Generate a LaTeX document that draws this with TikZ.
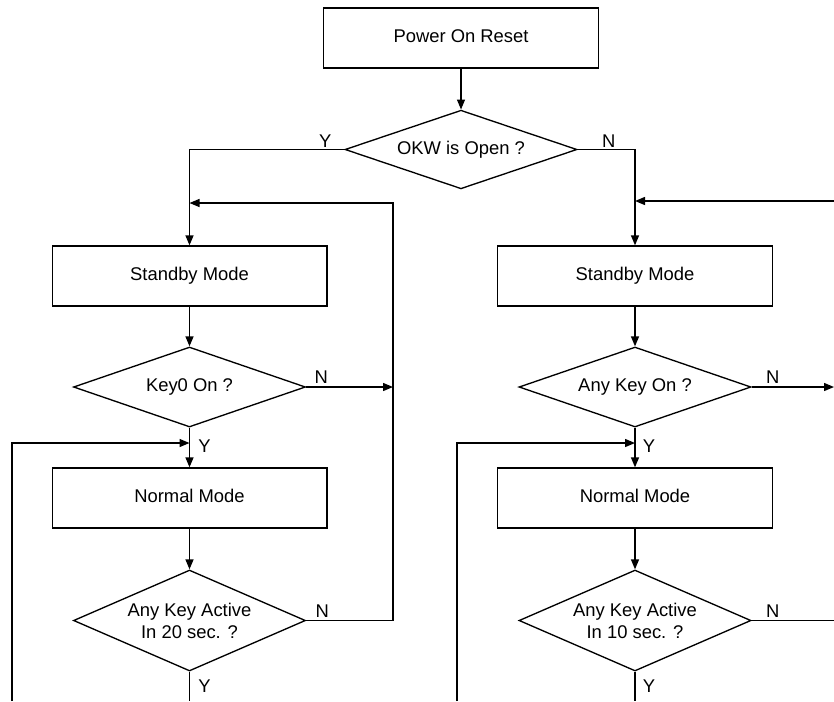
\documentclass[tikz,border=0pt]{standalone}
\usepackage{fontspec}
\setmainfont{Liberation Sans}
\usetikzlibrary{shapes.geometric,arrows.meta}
\begin{document}
\begin{tikzpicture}[x=0.75pt,y=-0.75pt,line cap=butt,line join=miter,line width=1pt,
		>={Triangle[length=7.5pt,width=6pt]},font=\fontsize{13.8}{16.5}\selectfont]
	\tikzset{box/.style={draw,rectangle,minimum width=206pt,minimum height=45pt,inner sep=0pt,
			text height=0.72em,text depth=0pt},
		decision/.style={draw,diamond,aspect=2.3,minimum width=174pt,minimum height=60pt,
			inner sep=0pt,align=center},
		lbl/.style={inner sep=0pt}
	}
	\path[fill=white,use as bounding box] (0,0) rectangle (834,701);
	% left column
	\node[box] (por) at (461,38) {Power On Reset};
	\node[decision,minimum height=59pt] (okw) at (461,149.5) {OKW is Open ?};
	\node[box] (sbL) at (189.5,276) {Standby Mode};
	\node[decision] (keyL) at (189.5,387) {Key0 On ?};
	\node[box] (nmL) at (189.5,498) {Normal Mode};
	\node[decision,minimum height=75.75pt] (actL) at (189.5,620.5) {Any Key Active\\In 20 sec. ?};
	% right column
	\node[box] (sbR) at (635,276) {Standby Mode};
	\node[decision] (keyR) at (635,387) {Any Key On ?};
	\node[box] (nmR) at (635,498) {Normal Mode};
	\node[decision,minimum height=75.75pt] (actR) at (635,620.5) {Any Key Active\\In 10 sec. ?};
	\coordinate (kNL) at (393,387); \coordinate (backL) at (393,203); \coordinate (topL) at (189.5,203);
	\coordinate (loopL) at (12,701); \coordinate (joinL) at (189.5,443); \coordinate (endL) at (189.5,701);
	\coordinate (kNR) at (834,387); \coordinate (backR) at (834,201); \coordinate (topR) at (635,201);
	\coordinate (loopR) at (457,701); \coordinate (joinR) at (635,443); \coordinate (endR) at (635,701);
	\coordinate (outR) at (834,620.5);
	\draw[->] (por) -- (okw);
	\draw[->] (okw.west) -| (sbL);
	\draw[->] (okw.east) -| (sbR);
	\draw[->] (sbL) -- (keyL);
	\draw[->] (keyL) -- (nmL);
	\draw[->] (nmL) -- (actL);
	\draw[->] (keyL.east) -- (kNL);
	\draw[->] (actL.east) -| (backL) -- (topL);
	\draw[->] (loopL) |- (joinL);
	\draw (actL) -- (endL);
	\draw[->] (sbR) -- (keyR);
	\draw[->] (keyR) -- (nmR);
	\draw[->] (nmR) -- (actR);
	\draw[->] (keyR.east) -- (kNR);
	\draw[->] (backR) -- (topR);
	\draw[->] (loopR) |- (joinR);
	\draw (actR.east) -- (outR);
	\draw (actR) -- (endR);
	% Y / N labels
	\node[lbl] (yOkw) at ([shift={(-19,-8.5)}]okw.west) {Y};
	\node[lbl] (nOkw) at ([shift={(31,-8.5)}]okw.east) {N};
	\node[lbl] (nKeyL) at ([shift={(15,-10)}]keyL.east) {N};
	\node[lbl] (yKeyL) at ([shift={(15,3)}]joinL) {Y};
	\node[lbl] (nActL) at ([shift={(16,-9.5)}]actL.east) {N};
	\node[lbl] (yActL) at ([shift={(15,14)}]actL.south) {Y};
	\node[lbl] (nKeyR) at ([shift={(21,-10)}]keyR.east) {N};
	\node[lbl] (yKeyR) at ([shift={(14,3)}]joinR) {Y};
	\node[lbl] (nActR) at ([shift={(21,-9.5)}]actR.east) {N};
	\node[lbl] (yActR) at ([shift={(14,14)}]actR.south) {Y};
\end{tikzpicture}
\end{document}
